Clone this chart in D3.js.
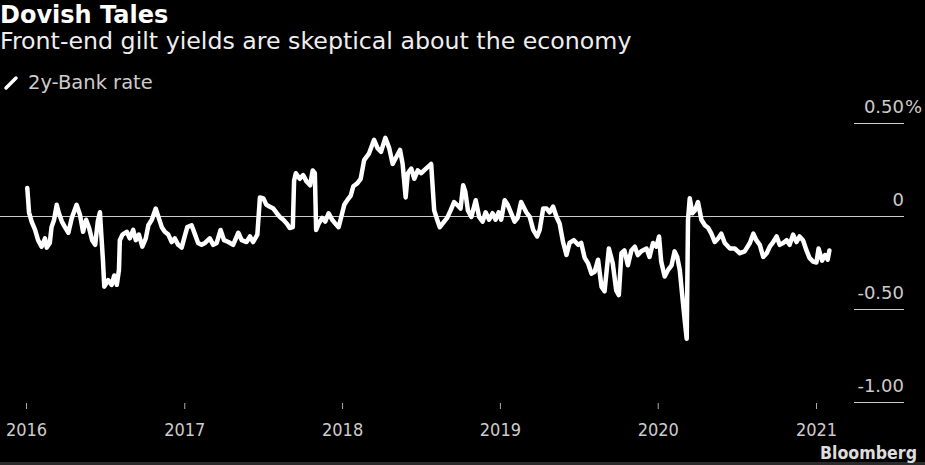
<!DOCTYPE html>
<html>
<head>
<meta charset="utf-8">
<script src="https://cdn.jsdelivr.net/npm/d3@7"></script>
<style>
  html, body { margin: 0; padding: 0; background: #000; }
  svg { display: block; }
</style>
</head>
<body>
<div id="chart"></div>
<script>
// 2y gilt yield minus Bank rate, percentage points
const dates2016 = ["2016-01-04","2016-01-08","2016-01-14","2016-01-22","2016-01-29","2016-02-06","2016-02-14","2016-02-18","2016-02-25","2016-02-29","2016-03-06","2016-03-12","2016-03-17","2016-03-24","2016-03-31","2016-04-08","2016-04-16","2016-04-27","2016-05-05","2016-05-12","2016-05-19","2016-05-26","2016-06-02","2016-06-09","2016-06-15","2016-06-20","2016-06-24","2016-06-27","2016-06-30","2016-07-09","2016-07-17","2016-07-23","2016-07-29","2016-08-03","2016-08-05","2016-08-11","2016-08-21","2016-08-28","2016-09-05","2016-09-11","2016-09-18","2016-09-26","2016-10-04","2016-10-10","2016-10-18","2016-10-27","2016-11-03","2016-11-10","2016-11-17","2016-11-25","2016-12-03","2016-12-10","2016-12-18","2016-12-26"]
const spread2016 = [0.15,0.02,-0.03,-0.075,-0.13,-0.165,-0.12,-0.17,-0.145,-0.06,-0.02,0.06,0.016,-0.03,-0.06,-0.09,-0.01,0.06,0.005,-0.085,-0.02,-0.065,-0.13,-0.155,-0.03,0.02,-0.13,-0.24,-0.38,-0.345,-0.37,-0.32,-0.37,-0.29,-0.13,-0.10,-0.085,-0.12,-0.075,-0.13,-0.10,-0.165,-0.12,-0.05,-0.02,0.04,-0.01,-0.06,-0.085,-0.10,-0.14,-0.12,-0.155,-0.17]

const dates2017 = ["2017-01-02","2017-01-08","2017-01-18","2017-01-26","2017-02-02","2017-02-10","2017-02-18","2017-03-01","2017-03-09","2017-03-17","2017-03-26","2017-04-03","2017-04-13","2017-04-24","2017-05-06","2017-05-14","2017-05-25","2017-06-02","2017-06-09","2017-06-19","2017-06-25","2017-07-03","2017-07-10","2017-07-18","2017-07-26","2017-08-03","2017-08-10","2017-08-18","2017-08-26","2017-09-02","2017-09-09","2017-09-12","2017-09-16","2017-09-25","2017-10-03","2017-10-11","2017-10-19","2017-10-25","2017-10-30","2017-11-02","2017-11-08","2017-11-16","2017-11-23","2017-12-01","2017-12-09","2017-12-16","2017-12-24","2017-12-30"]
const spread2017 = [-0.11,-0.06,-0.05,-0.10,-0.145,-0.155,-0.145,-0.12,-0.155,-0.145,-0.075,-0.13,-0.14,-0.155,-0.09,-0.13,-0.14,-0.11,-0.14,-0.10,0.10,0.095,0.06,0.05,0.04,0.015,-0.005,-0.02,-0.04,-0.065,-0.06,0.19,0.23,0.20,0.22,0.185,0.165,0.245,0.23,-0.075,-0.04,-0.01,-0.03,0.015,-0.02,-0.04,-0.06,-0.005]

const dates2018 = ["2018-01-06","2018-01-13","2018-01-21","2018-01-27","2018-02-05","2018-02-13","2018-02-21","2018-03-04","2018-03-16","2018-03-24","2018-04-01","2018-04-11","2018-04-20","2018-04-28","2018-05-07","2018-05-15","2018-05-21","2018-05-28","2018-06-02","2018-06-10","2018-06-17","2018-06-25","2018-07-03","2018-07-14","2018-07-26","2018-08-02","2018-08-09","2018-08-15","2018-08-25","2018-09-01","2018-09-09","2018-09-17","2018-09-24","2018-10-02","2018-10-08","2018-10-13","2018-10-19","2018-10-27","2018-11-06","2018-11-14","2018-11-22","2018-11-29","2018-12-07","2018-12-15","2018-12-22","2018-12-29"]
const spread2018 = [0.06,0.085,0.11,0.16,0.175,0.20,0.30,0.335,0.41,0.365,0.345,0.42,0.365,0.28,0.32,0.355,0.28,0.10,0.23,0.255,0.20,0.245,0.23,0.255,0.28,0.03,-0.02,-0.06,-0.03,-0.01,0.03,0.075,0.06,0.04,0.165,0.13,0.03,-0.005,0.085,-0.005,-0.03,0.02,-0.02,0.015,-0.02,0.02]

const dates2019 = ["2019-01-04","2019-01-12","2019-01-19","2019-01-27","2019-02-04","2019-02-11","2019-02-19","2019-03-03","2019-03-11","2019-03-19","2019-03-28","2019-04-03","2019-04-11","2019-04-19","2019-04-26","2019-05-04","2019-05-12","2019-05-19","2019-05-27","2019-06-04","2019-06-11","2019-06-21","2019-07-01","2019-07-08","2019-07-16","2019-07-24","2019-08-01","2019-08-08","2019-08-16","2019-08-24","2019-08-31","2019-09-10","2019-09-19","2019-09-27","2019-10-03","2019-10-09","2019-10-16","2019-10-24","2019-11-01","2019-11-09","2019-11-16","2019-11-24","2019-12-06","2019-12-13","2019-12-21","2019-12-29"]
const spread2019 = [-0.02,0.085,0.06,0.015,-0.03,-0.01,0.075,0.02,-0.005,-0.075,-0.11,-0.075,0.04,0.04,0.02,0.05,-0.005,-0.04,-0.14,-0.21,-0.145,-0.13,-0.155,-0.145,-0.225,-0.255,-0.31,-0.30,-0.235,-0.38,-0.405,-0.175,-0.255,-0.40,-0.425,-0.20,-0.185,-0.265,-0.185,-0.165,-0.21,-0.19,-0.175,-0.22,-0.145,-0.165]

const dates2020 = ["2020-01-04","2020-01-09","2020-01-17","2020-01-25","2020-02-02","2020-02-09","2020-02-15","2020-02-21","2020-02-27","2020-03-04","2020-03-08","2020-03-11","2020-03-15","2020-03-21","2020-03-27","2020-04-03","2020-04-11","2020-04-19","2020-04-27","2020-05-04","2020-05-12","2020-05-20","2020-05-27","2020-06-04","2020-06-16","2020-06-27","2020-07-09","2020-07-20","2020-08-01","2020-08-09","2020-08-16","2020-08-24","2020-09-01","2020-09-09","2020-09-16","2020-09-24","2020-10-02","2020-10-09","2020-10-17","2020-10-25","2020-11-01","2020-11-09","2020-11-17","2020-11-24","2020-12-02","2020-12-10","2020-12-17","2020-12-25"]
const spread2020 = [-0.11,-0.245,-0.325,-0.29,-0.265,-0.19,-0.22,-0.29,-0.435,-0.575,-0.66,-0.02,0.095,0.015,0.03,0.075,-0.02,-0.05,-0.065,-0.095,-0.14,-0.12,-0.095,-0.145,-0.175,-0.175,-0.20,-0.19,-0.145,-0.095,-0.13,-0.155,-0.22,-0.20,-0.165,-0.14,-0.11,-0.155,-0.145,-0.13,-0.155,-0.10,-0.14,-0.11,-0.13,-0.185,-0.225,-0.245]

const dates2021 = ["2021-01-02","2021-01-07","2021-01-15","2021-01-22","2021-01-28","2021-02-01"]
const spread2021 = [-0.25,-0.175,-0.24,-0.21,-0.235,-0.185]

const yTicks = [0.5, 0, -0.5, -1]
const yTickLabels = ["0.50", "0", "-0.50", "-1.00"]
const yUnit = "%"
const seriesName = "2y-Bank rate"
const title = "Dovish Tales"
const subtitle = "Front-end gilt yields are skeptical about the economy"

const width = 925
const height = 465
const font = "'DejaVu Sans', sans-serif"

const parse = d3.timeParse("%Y-%m-%d")
const dates = [].concat(dates2016, dates2017, dates2018, dates2019, dates2020, dates2021)
const spread = [].concat(spread2016, spread2017, spread2018, spread2019, spread2020, spread2021)
const data = dates.map((d, i) => ({date: parse(d), value: spread[i]}))

const x = d3.scaleTime()
    .domain([new Date(2016, 0, 1), new Date(2021, 0, 1)])
    .range([26, 816])
const y = d3.scaleLinear().domain([-1, 0.5]).range([402, 123])

const svg = d3.select("#chart")
    .append("svg")
    .attr("width", width)
    .attr("height", height)
    .style("background", "#000")

// titles
svg.append("text")
    .attr("x", 0).attr("y", 23)
    .attr("font-family", font).attr("font-weight", "bold").attr("font-size", 24)
    .attr("fill", "#fff")
    .text(title)

svg.append("text")
    .attr("x", 0).attr("y", 49)
    .attr("font-family", font).attr("font-size", 23.7)
    .attr("fill", "#eee")
    .text(subtitle)

// legend
svg.append("line")
    .attr("x1", 6).attr("y1", 88).attr("x2", 16).attr("y2", 78)
    .attr("stroke", "#fff").attr("stroke-width", 3.5).attr("stroke-linecap", "round")
svg.append("text")
    .attr("x", 28).attr("y", 89)
    .attr("font-family", font).attr("font-size", 19.5)
    .attr("fill", "#ccc")
    .text(seriesName)

// y axis on the right, labels sit above short rules
const gy = svg.append("g")
    .attr("transform", "translate(904,0)")
    .call(d3.axisLeft(y).tickValues(yTicks).tickSize(50).tickFormat((d, i) => yTickLabels[i]))
gy.select(".domain").remove()
gy.selectAll(".tick line")
    .attr("stroke", "#ccc")
    .attr("stroke-width", 1)
    .attr("x2", (d) => (d === 0 ? -904 : -50))
gy.selectAll(".tick text")
    .attr("x", 0)
    .attr("dy", -11)
    .attr("text-anchor", "end")
    .attr("font-family", font)
    .attr("font-size", 18)
    .attr("fill", "#ccc")
gy.selectAll(".tick")
    .filter((d) => d === yTicks[0])
    .append("text")
    .attr("x", 1).attr("dy", -11)
    .attr("text-anchor", "start")
    .attr("font-family", font).attr("font-size", 18)
    .attr("fill", "#ccc")
    .text(yUnit)

// x axis
const gx = svg.append("g")
    .attr("transform", "translate(0,403)")
    .call(d3.axisBottom(x).ticks(d3.timeYear.every(1)).tickSize(6).tickFormat(d3.timeFormat("%Y")))
gx.select(".domain").remove()
gx.selectAll(".tick line").attr("stroke", "#aaa")
gx.selectAll(".tick text")
    .attr("y", 33).attr("dy", 0)
    .attr("font-family", "'DejaVu Sans Condensed', " + font)
    .attr("font-size", 18)
    .attr("fill", "#ccc")

// series
const line = d3.line()
    .x((d) => x(d.date))
    .y((d) => y(d.value))

svg.append("path")
    .datum(data)
    .attr("fill", "none")
    .attr("stroke", "#fff")
    .attr("stroke-width", 4.5)
    .attr("stroke-linejoin", "round")
    .attr("stroke-linecap", "round")
    .attr("d", line)

// footer
svg.append("rect")
    .attr("x", 0).attr("y", 462).attr("width", width).attr("height", 3)
    .attr("fill", "#2b2b2b")
svg.append("text")
    .attr("x", 917).attr("y", 459)
    .attr("text-anchor", "end")
    .attr("font-family", "'DejaVu Sans Condensed', " + font)
    .attr("font-weight", "bold").attr("font-size", 17)
    .attr("fill", "#ddd")
    .attr("textLength", 97).attr("lengthAdjust", "spacingAndGlyphs")
    .text("Bloomberg")
</script>
</body>
</html>
